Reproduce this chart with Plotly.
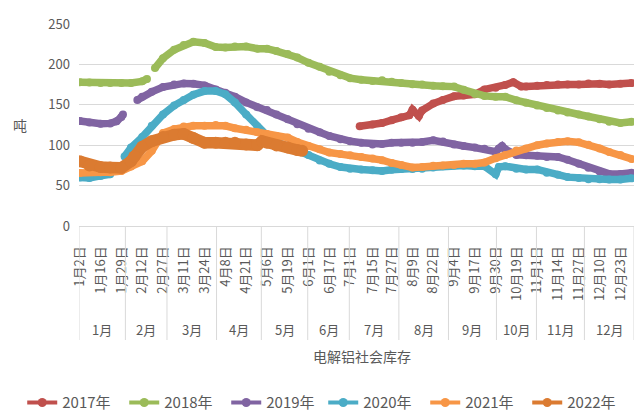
import datetime as dt
import plotly.graph_objects as go

# ---------------- categories (month-day of the shared calendar axis) ----------------
EXCLUDED_DAYS = ["1-8", "2-4", "2-16", "2-17", "4-4", "4-5", "5-2", "5-3",
                 "6-7", "6-13", "6-14", "6-25",
                 "10-1", "10-2", "10-3", "10-4", "10-5", "10-6"]


def build_categories():
    d = dt.date(2020, 1, 2)
    out = []
    while d.year == 2020:
        key = f"{d.month}-{d.day}"
        if key not in EXCLUDED_DAYS:
            out.append(key)
        d += dt.timedelta(days=1)
    return out


categories = build_categories()

tick_dates = ["1-2", "1-16", "1-29", "2-12", "2-27", "3-11", "3-24", "4-8", "4-21",
              "5-6", "5-19", "6-1", "6-17", "7-1", "7-15", "7-27", "8-9", "8-22",
              "9-4", "9-17", "9-30", "10-19", "11-1", "11-14", "11-27", "12-10", "12-23"]
month_names = ["1月", "2月", "3月", "4月", "5月", "6月", "7月", "8月", "9月", "10月", "11月", "12月"]

# ---------------- series ----------------
GRID = ["1-2", "1-9", "1-16", "1-22", "1-29", "2-5", "2-12", "2-20", "2-27", "3-5", "3-11",
        "3-17", "3-24", "3-31", "4-8", "4-14", "4-21", "4-28", "5-6", "5-12", "5-19", "5-25",
        "6-1", "6-9", "6-17", "6-24", "7-1", "7-8", "7-15", "7-21", "7-27", "8-2", "8-9",
        "8-15", "8-22", "8-28", "9-4", "9-10", "9-17", "9-23", "9-30", "10-12", "10-19",
        "10-25", "11-1", "11-7", "11-14", "11-20", "11-27", "12-3", "12-10", "12-16",
        "12-23", "12-30"]

dates_2017 = ["7-7", "7-15", "7-21", "7-27", "8-2", "8-7", "8-9", "8-13", "8-15", "8-22",
              "8-28", "9-4", "9-10", "9-17", "9-23", "9-30", "10-12", "10-17", "10-22",
              "10-25", "11-1", "11-7", "11-14", "11-20", "11-27", "12-3", "12-10", "12-16",
              "12-23", "12-30"]
values_2017 = [123.5, 125.5, 127.5, 131, 134.5, 137, 144, 136, 143, 151.5,
               156, 160.5, 161.5, 163, 169, 171, 174.5, 178, 172.5,
               172.5, 173.5, 174.5, 175, 175, 175, 176.5, 176, 175,
               176, 177]

dates_2018 = GRID[:7] + ["2-15", "2-19", "2-22"] + GRID[8:]
values_2018 = [178, 177.5, 177, 177, 177, 177, 179, 182, None, 195.5,
               207.5, 218, 224, 228, 226.5, 221.5, 221, 222, 222, 219.5, 219.5, 216.5,
               213, 208.5, 202, 197, 191, 186.5, 183, 181, 179.5, 180.5, 178.5, 177,
               175.5, 175, 173.5, 173, 172.5, 168.5, 163.5, 161, 160, 160, 155.5, 152.5,
               149, 146, 143, 140.5, 138, 135.5, 132, 129, 127.5, 129]

dates_2019 = ["1-2", "1-9", "1-16", "1-22", "1-26", "1-29", "1-30", "2-3", "2-9", "2-12",
              "2-20", "2-27", "3-5", "3-11", "3-17", "3-24", "3-31", "4-8", "4-14", "4-21",
              "4-28", "5-6", "5-12", "5-19", "5-25", "6-1", "6-9", "6-17", "6-24", "7-1",
              "7-8", "7-15", "7-21", "7-27", "8-2", "8-9", "8-15", "8-22", "8-28", "9-4",
              "9-10", "9-17", "9-23", "9-30", "10-8", "10-10", "10-12", "10-19", "10-25", "11-1",
              "11-7", "11-14", "11-20", "11-27", "12-3", "12-10", "12-16", "12-23", "12-30"]
values_2019 = [130, 128, 126.5, 127, 129.5, 135, 138, None, 156, 160,
               166, 172, 175, 176.5, 176, 174, 169, 165, 160, 153,
               147, 143.5, 138, 132, 126, 120.5, 116, 111.5, 107.5, 105,
               103, 101, 101.5, 103, 103, 103, 104, 106, 104.5, 101,
               99, 97, 95.5, 92, 96, 99, 95, 88, 87.5, 87,
               85.5, 85.5, 82, 77, 72, 67.5, 64.5, 64.5, 66]

dates_2020 = ["1-2", "1-9", "1-16", "1-22", "1-27", "1-31", "2-5", "2-12", "2-20", "2-27",
              "3-5", "3-11", "3-17", "3-24", "3-31", "4-8", "4-14", "4-21", "4-28", "5-6",
              "5-12", "5-19", "5-25", "6-1", "6-9", "6-17", "6-24", "7-1", "7-8", "7-15",
              "7-21", "7-27", "8-2", "8-9", "8-15", "8-22", "8-28", "9-4", "9-10", "9-17",
              "9-23", "9-30", "10-8", "10-12", "10-19", "10-25", "11-1", "11-7", "11-14", "11-20",
              "11-27", "12-3", "12-10", "12-16", "12-23", "12-30"]
values_2020 = [60, 59.5, 62, 64, None, 86, 97, 110, 124, 138,
               149, 156, 162.5, 167, 167, 163, 153, 138, 123, 112,
               104, 98, 92.5, 88, 81, 77, 73, 71, 70, 69,
               68, 69.5, 70.5, 70.5, 71, 72.5, 74, 75, 75, 74,
               74, 64, 73, 74, 71, 70, 70, 66, 63.5, 60.5,
               59.5, 58, 58, 57.5, 57.5, 59]

dates_2021 = GRID
values_2021 = [65.5, 67, 66.5, 66.5, 68, 73.5, 80, 93, 115, 120, 123,
               124, 124, 125, 124, 121, 119, 116, 114, 111.5, 109.5, 104,
               99, 95, 91, 89, 87.5, 85.5, 83.5, 81.5, 78, 75.5, 72.5,
               73, 74.5, 75, 75.5, 77, 77, 78.5, 84, 88, 93.5,
               96, 100, 102, 104, 105, 103.5, 100.5, 96, 91.5,
               88, 83]

dates_2022 = ["1-2", "1-9", "1-16", "1-22", "1-29", "2-5", "2-7", "2-12", "2-20", "2-27",
              "3-5", "3-11", "3-17", "3-24", "3-31", "4-8", "4-14", "4-21", "4-28", "5-1",
              "5-6", "5-12", "5-19", "5-25", "5-28"]
values_2022 = [80, 75, 73, 72.5, 72, 80, 86, 98, 105, 110,
               113, 114, 109, 103, 103, 103, 103, 101, 100, 105,
               103, 99.5, 97, 94, 93]

series_names = ["2017年", "2018年", "2019年", "2020年", "2021年", "2022年"]
series_dates = [dates_2017, dates_2018, dates_2019, dates_2020, dates_2021, dates_2022]
series_values = [values_2017, values_2018, values_2019, values_2020, values_2021, values_2022]
series_colors = ["#C0504D", "#9BBB59", "#8064A2", "#4BACC6", "#F79646", "#DB7B31"]
series_sizes = [8, 8, 8, 8, 8, 12]

FONT = "Noto Sans CJK SC, Noto Sans, sans-serif"
GREY = "#595959"
LINE = "#D9D9D9"

cat_index = {c: i for i, c in enumerate(categories)}

fig = go.Figure()
for name, ds, vs, col, sz in zip(series_names, series_dates, series_values, series_colors, series_sizes):
    assert len(ds) == len(vs), name
    fig.add_trace(go.Scatter(
        x=[cat_index[d] for d in ds], y=vs, name=name, mode="lines+markers",
        line=dict(color=col, width=sz - 0.5), marker=dict(color=col, size=sz),
        connectgaps=False, hoverinfo="skip", showlegend=False, legendgroup=name))
# legend keys (thinner line + dot, as in the reference legend), split over two legend boxes
for k, (name, col) in enumerate(zip(series_names, series_colors)):
    fig.add_trace(go.Scatter(
        x=[None], y=[None], name=name, mode="lines+markers", legendgroup=name,
        legend="legend" if k < 3 else "legend2",
        line=dict(color=col, width=4), marker=dict(color=col, size=9)))

# month grouping (second level of the category axis)
month_of = [int(c.split("-")[0]) for c in categories]
bounds = [i for i in range(1, len(categories)) if month_of[i] != month_of[i - 1]]
edges = [-0.5] + [b - 0.5 for b in bounds] + [len(categories) - 0.5]

shapes = []
for e in edges:
    shapes.append(dict(type="line", xref="x", yref="paper", x0=e, x1=e, y0=0, y1=-114 / 202,
                       line=dict(color=LINE, width=1)))

annotations = []
for m in range(12):
    annotations.append(dict(text=month_names[m], xref="x", yref="paper",
                            x=(edges[m] + edges[m + 1]) / 2, y=0, yshift=-103,
                            yanchor="middle", showarrow=False,
                            font=dict(family=FONT, size=13, color=GREY)))
annotations.append(dict(text="电解铝社会库存", xref="paper", yref="paper", x=0.51, y=0,
                        yshift=-130, yanchor="middle", showarrow=False,
                        font=dict(family=FONT, size=14, color=GREY)))
annotations.append(dict(text="吨", xref="paper", yref="paper", x=-0.107, y=0.5,
                        xanchor="center", yanchor="middle", showarrow=False,
                        font=dict(family=FONT, size=14, color=GREY)))

legend_common = dict(orientation="h", xref="container", yref="container", y=0.02,
                     xanchor="left", yanchor="middle",
                     font=dict(family=FONT, size=15, color=GREY),
                     itemwidth=30, entrywidth=57, entrywidthmode="pixels",
                     tracegroupgap=0, borderwidth=0, bgcolor="rgba(0,0,0,0)")

fig.update_layout(
    width=635, height=411,
    margin=dict(l=79, r=1, t=24, b=185),
    plot_bgcolor="white", paper_bgcolor="white",
    font=dict(family=FONT, color=GREY),
    shapes=shapes, annotations=annotations,
    legend=dict(x=0.035, **legend_common),
    legend2=dict(x=0.035 + 301 / 635, **legend_common),
    xaxis=dict(range=[-0.5, len(categories) - 0.5], tickmode="array",
               tickvals=[cat_index[d] for d in tick_dates],
               ticktext=[f"{d.split('-')[0]}月{d.split('-')[1]}日" for d in tick_dates],
               tickangle=-90, tickfont=dict(family=FONT, size=13, color=GREY),
               showgrid=False, zeroline=False, showline=True, linecolor=LINE, linewidth=1,
               ticks="", ticklabelstandoff=14, fixedrange=True),
    yaxis=dict(range=[0, 250], dtick=50, tick0=0, showgrid=True, gridcolor=LINE, gridwidth=1,
               zeroline=False, showline=False, ticks="", ticklabelstandoff=8,
               tickfont=dict(family=FONT, size=13, color=GREY), fixedrange=True),
)

fig.write_html("out.html", config={"displayModeBar": False},
               post_script="document.body.style.margin='0px';")
